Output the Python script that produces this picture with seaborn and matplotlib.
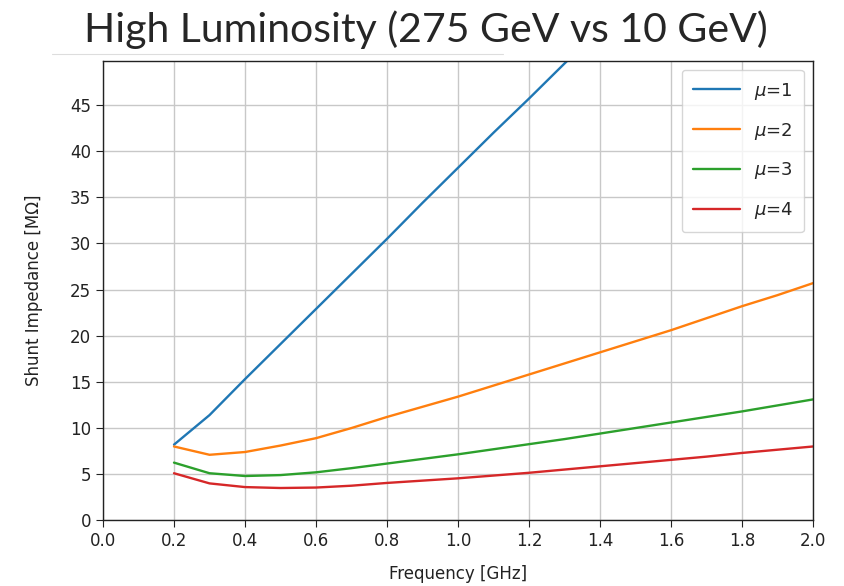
import matplotlib
matplotlib.use("Agg")
import matplotlib.pyplot as plt
import matplotlib.lines as mlines
import seaborn as sns
import pandas as pd
import numpy as np

# frequency points [GHz]
freq = [0.2, 0.3, 0.4, 0.5, 0.6, 0.7, 0.8, 0.9, 1.0, 1.1,
        1.2, 1.3, 1.4, 1.5, 1.6, 1.7, 1.8, 1.9, 2.0]

# shunt impedance [MOhm]
mu1 = [8.2, 11.4, 15.3, 19.1, 22.9, 26.7, 30.5, 34.4, 38.2, 42.0,
       45.7, 49.5, 53.2, 57.0, 60.7, 64.4, 68.1, 71.8, 75.5]
mu2 = [8.0, 7.1, 7.4, 8.1, 8.9, 10.0, 11.2, 12.3, 13.4, 14.6,
       15.8, 17.0, 18.2, 19.4, 20.6, 21.9, 23.2, 24.4, 25.7]
mu3 = [6.25, 5.1, 4.8, 4.9, 5.2, 5.65, 6.15, 6.65, 7.15, 7.7,
       8.25, 8.8, 9.4, 10.0, 10.6, 11.2, 11.8, 12.45, 13.1]
mu4 = [5.1, 4.0, 3.6, 3.5, 3.55, 3.75, 4.05, 4.3, 4.55, 4.85,
       5.15, 5.5, 5.85, 6.2, 6.55, 6.9, 7.3, 7.65, 8.0]

labels = [r"$\mu$=1", r"$\mu$=2", r"$\mu$=3", r"$\mu$=4"]
series = [mu1, mu2, mu3, mu4]

rows = []
for lab, vals in zip(labels, series):
    for f, v in zip(freq, vals):
        rows.append({"freq": f, "imp": v, "mu": lab})
df = pd.DataFrame(rows)

sns.set_style("ticks")
plt.rcParams["font.family"] = "sans-serif"
plt.rcParams["font.sans-serif"] = ["DejaVu Sans"]
plt.rcParams["mathtext.fontset"] = "dejavusans"

fig = plt.figure(figsize=(8.45, 5.86), dpi=100)
ax = fig.add_axes([0.1219, 0.1121, 0.8403, 0.7843])

palette = sns.color_palette("tab10", 4)
sns.lineplot(data=df, x="freq", y="imp", hue="mu", palette=palette,
             linewidth=1.7, ax=ax)

ax.set_xlim(0, 2.0)
ax.set_ylim(0, 49.8)
ax.set_xticks(np.arange(0, 2.01, 0.2))
ax.set_yticks(np.arange(0, 46, 5))
ax.grid(True, color="#c8c8c8", linewidth=1.0)
for s in ax.spines.values():
    s.set_color("#222222")
    s.set_linewidth(1.0)
ax.tick_params(labelsize=12, colors="#222222", length=5)

ax.set_xlabel("Frequency [GHz]", fontsize=12, color="#222222")
ax.set_ylabel("Shunt Impedance [M\u03a9]", fontsize=12, color="#222222")
ax.yaxis.set_label_coords(-0.084, 0.5)
ax.xaxis.set_label_coords(0.5, -0.098)

ax.legend(loc="upper right", handlelength=2.6,
          labelspacing=1.05, borderpad=0.6, framealpha=0.8,
          prop={"size": 13})

fig.text(0.504, 0.928, "High Luminosity (275 GeV vs 10 GeV)",
         ha="center", va="baseline", fontsize=29.5,
         family=["Lato", "DejaVu Sans"])
fig.add_artist(mlines.Line2D([0.062, 0.595], [0.908, 0.908],
                             color="#dddddd", linewidth=0.8))

fig.savefig("out.png", dpi=100)
